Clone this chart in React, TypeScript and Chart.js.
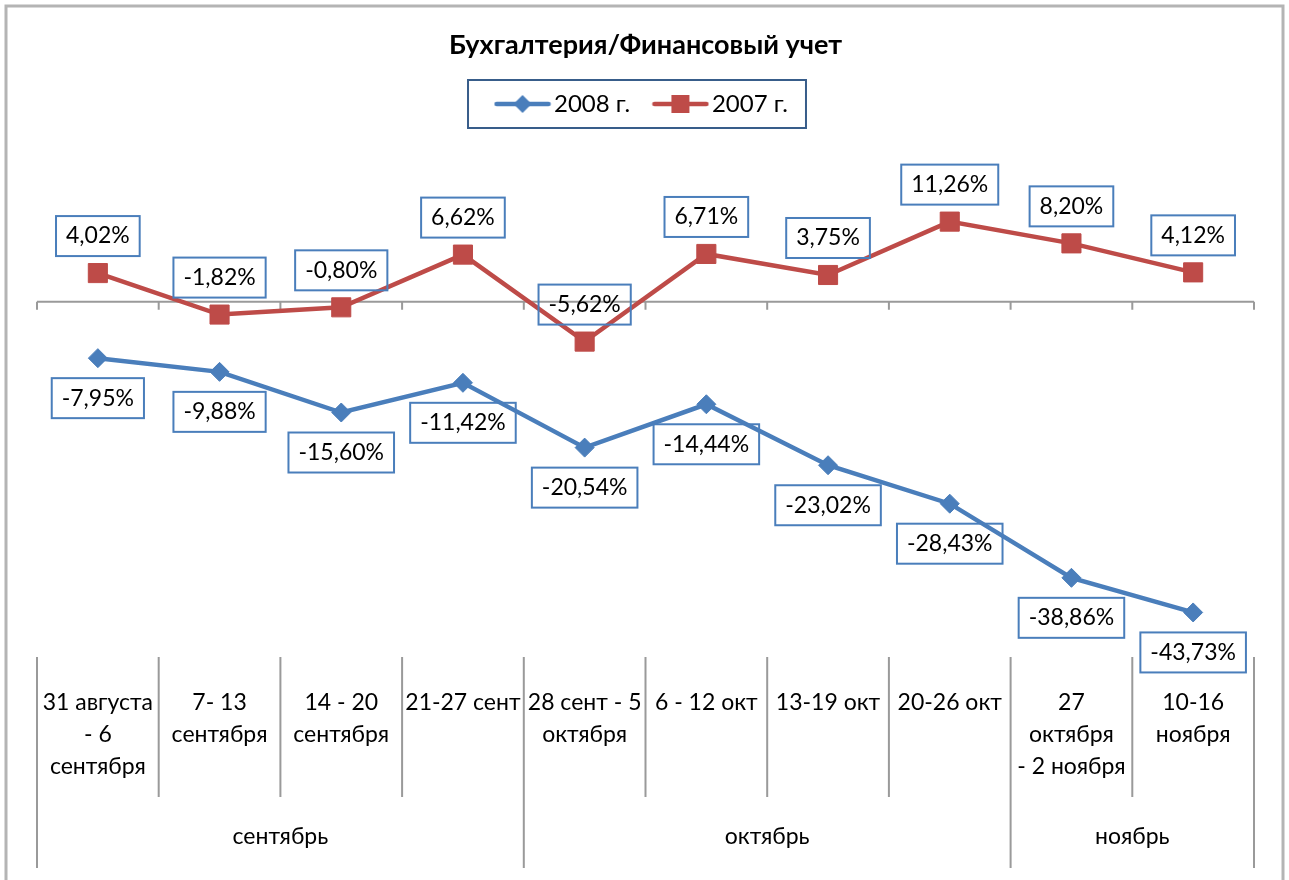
import React, { useEffect, useRef } from 'react';
import { Chart, registerables } from 'chart.js';

Chart.register(...registerables);

const TITLE = 'Бухгалтерия/Финансовый учет';
const weekLabels: string[][] = [
  ['31 августа', '- 6', 'сентября'],
  ['7- 13', 'сентября'],
  ['14 - 20', 'сентября'],
  ['21-27 сент'],
  ['28 сент - 5', 'октября'],
  ['6 - 12 окт'],
  ['13-19 окт'],
  ['20-26 окт'],
  ['27', 'октября', '- 2 ноября'],
  ['10-16', 'ноября'],
];
const months = ['сентябрь', 'октябрь', 'ноябрь'];
const monthSpans = [4, 4, 2];
const seriesNames = ['2008 г.', '2007 г.'];
const series2008 = [-7.95, -9.88, -15.6, -11.42, -20.54, -14.44, -23.02, -28.43, -38.86, -43.73];
const series2007 = [4.02, -1.82, -0.8, 6.62, -5.62, 6.71, 3.75, 11.26, 8.2, 4.12];
const yMin = -50;
const yMax = 20;

const FONT = 'Lato, "Open Sans", sans-serif';
const BLUE = '#4a7ebb';
const RED = '#be4b48';
const AXIS = '#9a9a9a';
const LABEL_BORDER = '#4a7ebb';

function legendIcon(color: string, style: 'diamond' | 'square') {
  const c = document.createElement('canvas');
  c.width = 58;
  c.height = 22;
  const g = c.getContext('2d')!;
  g.strokeStyle = color;
  g.lineWidth = 4.5;
  g.lineCap = 'round';
  g.beginPath();
  g.moveTo(3, 11);
  g.lineTo(55, 11);
  g.stroke();
  g.fillStyle = color;
  if (style === 'diamond') {
    g.beginPath();
    g.moveTo(29, 2);
    g.lineTo(38, 11);
    g.lineTo(29, 20);
    g.lineTo(20, 11);
    g.closePath();
    g.fill();
  } else {
    g.fillRect(20, 2, 18, 18);
  }
  return c;
}

const fmt = (v: number) => v.toFixed(2).replace('.', ',') + '%';

const decorPlugin = {
  id: 'decor',
  beforeDraw(chart: any) {
    const ctx = chart.ctx;
    ctx.save();
    ctx.fillStyle = '#fff';
    ctx.fillRect(0, 0, chart.width, chart.height);
    ctx.strokeStyle = '#b4b4b4';
    ctx.lineWidth = 3;
    ctx.strokeRect(6, 6, chart.width - 12, chart.height + 20);
    ctx.restore();
  },
  beforeDatasetsDraw(chart: any) {
    const ctx = chart.ctx;
    const x = chart.scales.x;
    const y = chart.scales.y;
    const area = chart.chartArea;
    const n = weekLabels.length;
    ctx.save();
    ctx.strokeStyle = AXIS;
    ctx.lineWidth = 2;
    const y0 = y.getPixelForValue(0);
    ctx.beginPath();
    ctx.moveTo(area.left, y0);
    ctx.lineTo(area.right, y0);
    for (let i = 0; i <= n; i++) {
      const px = x.getPixelForValue(i - 0.5);
      ctx.moveTo(px, y0);
      ctx.lineTo(px, y0 + 8);
    }
    ctx.stroke();
    const top = area.bottom;
    const mid = area.bottom + 140;
    const bottom = area.bottom + 211;
    ctx.beginPath();
    for (let i = 0; i <= n; i++) {
      const px = x.getPixelForValue(i - 0.5);
      ctx.moveTo(px, top);
      ctx.lineTo(px, mid);
    }
    let start = 0;
    const bounds = [0];
    monthSpans.forEach((s) => {
      start += s;
      bounds.push(start);
    });
    bounds.forEach((b) => {
      const px = x.getPixelForValue(b - 0.5);
      ctx.moveTo(px, mid);
      ctx.lineTo(px, bottom);
    });
    ctx.stroke();
    ctx.fillStyle = '#000';
    ctx.font = `23px ${FONT}`;
    ctx.textAlign = 'center';
    ctx.textBaseline = 'middle';
    months.forEach((m, i) => {
      const a = x.getPixelForValue(bounds[i] - 0.5);
      const b = x.getPixelForValue(bounds[i + 1] - 0.5);
      ctx.fillText(m, (a + b) / 2, area.bottom + 180);
    });
    ctx.restore();
  },
  afterDatasetsDraw(chart: any) {
    const ctx = chart.ctx;
    ctx.save();
    ctx.font = `23px ${FONT}`;
    ctx.textAlign = 'center';
    ctx.textBaseline = 'middle';
    chart.data.datasets.forEach((ds: any, di: number) => {
      const meta = chart.getDatasetMeta(di);
      meta.data.forEach((pt: any, i: number) => {
        const v = ds.data[i];
        const text = fmt(v);
        const w = ctx.measureText(text).width + 20;
        const h = 40;
        const cy = di === 0 ? pt.y + 40 : pt.y - 37;
        const cx = pt.x;
        ctx.strokeStyle = LABEL_BORDER;
        ctx.lineWidth = 2;
        ctx.strokeRect(cx - w / 2, cy - h / 2, w, h);
        ctx.fillStyle = '#000';
        ctx.fillText(text, cx, cy);
      });
    });
    ctx.restore();
  },
  afterDraw(chart: any) {
    const hb = chart.legend?.legendHitBoxes;
    if (!hb || !hb.length) return;
    const ctx = chart.ctx;
    const left = hb[0].left - 35;
    const last = hb[hb.length - 1];
    const right = last.left + last.width + 18;
    const cy = hb[0].top + hb[0].height / 2;
    ctx.save();
    ctx.strokeStyle = '#385d8a';
    ctx.lineWidth = 2;
    ctx.strokeRect(left, cy - 24, right - left, 48);
    ctx.restore();
  },
};

export default function App() {
  const ref = useRef<HTMLCanvasElement>(null);
  useEffect(() => {
    const blueIcon = legendIcon(BLUE, 'diamond');
    const redIcon = legendIcon(RED, 'square');
    const chart = new Chart(ref.current!, {
      type: 'line',
      data: {
        labels: weekLabels,
        datasets: [
          {
            label: seriesNames[0],
            data: series2008,
            borderColor: BLUE,
            backgroundColor: BLUE,
            borderWidth: 4.5,
            pointStyle: 'rectRot',
            pointRadius: 9.5,
            pointBorderWidth: 1,
            pointBackgroundColor: BLUE,
            pointBorderColor: BLUE,
            tension: 0,
          },
          {
            label: seriesNames[1],
            data: series2007,
            borderColor: RED,
            backgroundColor: RED,
            borderWidth: 4.5,
            pointStyle: 'rect',
            pointRadius: 13.5,
            pointBorderWidth: 1,
            pointBackgroundColor: RED,
            pointBorderColor: RED,
            tension: 0,
          },
        ],
      },
      options: {
        responsive: false,
        animation: false,
        events: [],
        layout: { padding: { left: 37, right: 35, top: 0, bottom: 0 } },
        scales: {
          x: {
            type: 'category',
            position: 'bottom',
            offset: true,
            grid: { display: false },
            border: { display: false },
            ticks: {
              autoSkip: false,
              maxRotation: 0,
              minRotation: 0,
              color: '#000',
              padding: 22,
              font: { family: FONT, size: 23, lineHeight: 32 / 23 },
            },
            afterFit: (s: any) => {
              s.height = 223;
            },
          },
          xTop: {
            type: 'category',
            position: 'top',
            labels: weekLabels.map((_, i) => String(i)),
            display: true,
            grid: { display: false },
            border: { display: false },
            ticks: { display: false },
            afterFit: (s: any) => {
              s.height = 33.5;
            },
          },
          y: {
            type: 'linear',
            display: false,
            min: yMin,
            max: yMax,
          },
        },
        plugins: {
          tooltip: { enabled: false },
          title: {
            display: true,
            text: TITLE,
            color: '#000',
            font: { family: FONT, size: 27, weight: 'bold', lineHeight: 1.2 },
            padding: { top: 28.8, bottom: 0 },
          },
          legend: {
            display: true,
            position: 'top',
            labels: {
              usePointStyle: true,
              pointStyleWidth: 39,
              padding: 30.8,
              color: '#000',
              font: { family: FONT, size: 24 },
              generateLabels: () => [
                {
                  text: seriesNames[0],
                  pointStyle: blueIcon,
                  fillStyle: BLUE,
                  strokeStyle: BLUE,
                  lineWidth: 0,
                  hidden: false,
                  datasetIndex: 0,
                },
                {
                  text: seriesNames[1],
                  pointStyle: redIcon,
                  fillStyle: RED,
                  strokeStyle: RED,
                  lineWidth: 0,
                  hidden: false,
                  datasetIndex: 1,
                },
              ],
            },
          },
        },
      } as any,
      plugins: [decorPlugin],
    });
    return () => chart.destroy();
  }, []);
  return (
    <div style={{ position: 'fixed', left: 0, top: 0, width: 1289, height: 880, background: '#fff' }}>
      <canvas ref={ref} width={1289} height={880} style={{ display: 'block' }} />
    </div>
  );
}
